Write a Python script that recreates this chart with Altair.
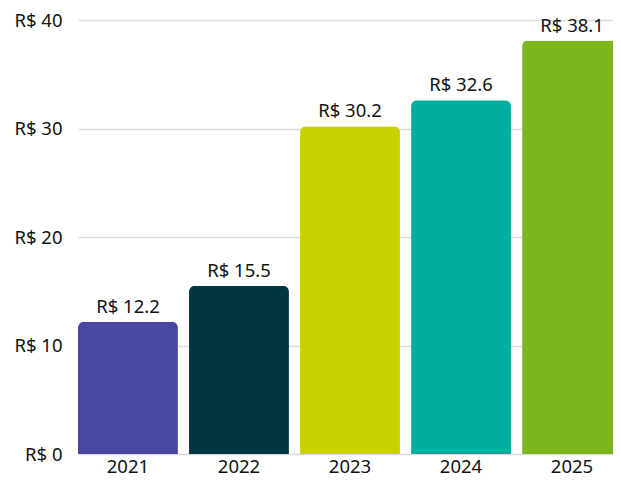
import altair as alt
import pandas as pd

years = ["2021", "2022", "2023", "2024", "2025"]
values = [12.2, 15.5, 30.2, 32.6, 38.1]
colors = ["#4a47a1", "#003641", "#c9d200", "#00ae9d", "#7db61c"]
labels = [f"R$ {v}" for v in values]

df = pd.DataFrame({"year": years, "value": values, "label": labels})

FONT = "Noto Sans"
FS = 18.5

x = alt.X("year:N", sort=years, title=None,
          scale=alt.Scale(paddingInner=0.1, paddingOuter=0, range=[0, 544]),
          axis=alt.Axis(labelAngle=0, labelFontSize=FS, labelColor="#111111",
                        labelFont=FONT, ticks=False, domain=False, labelPadding=3))
y = alt.Y("value:Q", title=None,
          scale=alt.Scale(domain=[0, 40], nice=False),
          axis=alt.Axis(values=[0, 10, 20, 30, 40], labelExpr="'R$ ' + datum.value",
                        labelFontSize=FS, labelColor="#111111", labelFont=FONT,
                        ticks=False, domain=False, labelPadding=16,
                        grid=True, gridColor="#dcdcdc", gridWidth=1.5))

bars = alt.Chart(df).mark_bar(cornerRadiusTopLeft=6, cornerRadiusTopRight=6).encode(
    x=x, y=y,
    color=alt.Color("year:N", scale=alt.Scale(domain=years, range=colors), legend=None),
)

text = alt.Chart(df).mark_text(baseline="alphabetic", dy=-9, fontSize=FS, font=FONT,
                               color="#111111").encode(
    x=alt.X("year:N", sort=years), y="value:Q", text="label:N")

chart = (bars + text).properties(
    width=535, height=434,
    padding={"left": 70, "top": 12, "right": 0, "bottom": 22},
    autosize=alt.AutoSizeParams(type="none"),
    background="white",
).configure_view(stroke=None)

chart.save("out.html", embed_options={"renderer": "svg", "actions": False})
